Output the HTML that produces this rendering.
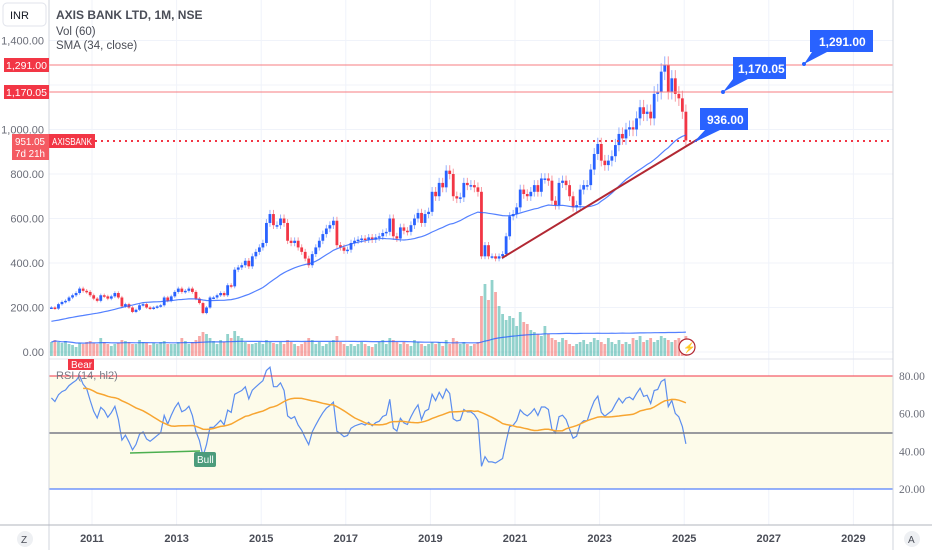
<!DOCTYPE html>
<html><head><meta charset="utf-8">
<style>
html,body{margin:0;padding:0;background:#fff;}
svg{display:block;font-family:"Liberation Sans",sans-serif;}
</style></head>
<body>
<svg id="chart" width="932" height="550" viewBox="0 0 932 550">
  <rect x="0" y="0" width="932" height="550" fill="#fff"/>
  <g id="grid"></g>
  <rect x="49" y="376" width="844" height="113" fill="#fdfbea"/>
  <g id="vol"></g>
  <g id="candles"></g>
  <g id="lines"></g>
  <g id="overlay">
    <line x1="49" y1="65" x2="893" y2="65" stroke="#f77c80" stroke-width="1"/>
    <line x1="49" y1="92" x2="893" y2="92" stroke="#f77c80" stroke-width="1"/>
    <line x1="95" y1="141" x2="893" y2="141" stroke="#f23645" stroke-width="2" stroke-dasharray="2,4"/>
    <line x1="502" y1="258" x2="713" y2="130" stroke="#b22833" stroke-width="2"/>
    <line x1="49" y1="359" x2="893" y2="359" stroke="#e0e3eb" stroke-width="1"/>
    <line x1="49" y1="376" x2="893" y2="376" stroke="#f23645" stroke-width="1"/>
    <line x1="49" y1="433" x2="893" y2="433" stroke="#787b86" stroke-width="1.5"/>
    <line x1="49" y1="489" x2="893" y2="489" stroke="#2962ff" stroke-width="1"/>
    <line x1="49" y1="0" x2="49" y2="550" stroke="#d1d4dc"/>
    <line x1="893" y1="0" x2="893" y2="550" stroke="#d1d4dc"/>
    <line x1="0" y1="525" x2="932" y2="525" stroke="#b2b5be"/>
  </g>
  <g id="ticks" font-size="11" fill="#6a6d78"></g>

  <!-- header -->
  <rect x="3" y="3" width="43" height="23" rx="4" fill="#fff" stroke="#e0e3eb"/>
  <text x="10" y="19" font-size="11" fill="#131722">INR</text>
  <text x="56" y="19" font-size="12" font-weight="bold" fill="#4a4d57">AXIS BANK LTD, 1M, NSE</text>
  <text x="56" y="35" font-size="11.5" fill="#4a4d57">Vol (60)</text>
  <text x="56" y="49" font-size="11.5" fill="#4a4d57">SMA (34, close)</text>

  <!-- left price labels -->
  <rect x="4" y="58" width="45" height="14" fill="#f23645"/>
  <text x="6" y="69" font-size="10.5" fill="#fff" textLength="41" lengthAdjust="spacingAndGlyphs">1,291.00</text>
  <rect x="4" y="85" width="45" height="14" fill="#f23645"/>
  <text x="6" y="96" font-size="10.5" fill="#fff" textLength="41" lengthAdjust="spacingAndGlyphs">1,170.05</text>
  <rect x="12" y="134" width="37" height="26" fill="#f45a62"/>
  <text x="15" y="145" font-size="10.5" fill="#fff" textLength="30" lengthAdjust="spacingAndGlyphs">951.05</text>
  <text x="15" y="157" font-size="10.5" fill="#fff" textLength="30" lengthAdjust="spacingAndGlyphs">7d 21h</text>
  <rect x="49" y="134" width="46" height="14" fill="#f23645"/>
  <text x="52" y="145" font-size="10" fill="#fff" textLength="40" lengthAdjust="spacingAndGlyphs">AXISBANK</text>

  <!-- callouts -->
  <g>
    <path d="M700,108 h48 v22 h-28 l-27,13 l12,-13 h-5 z" fill="#2962ff"/>
    <text x="707" y="124" font-size="12" font-weight="bold" fill="#fff">936.00</text>
  </g>
  <g>
    <path d="M733,57 h53 v22 h-38 l-25,13 l10,-13 z" fill="#2962ff"/>
    <circle cx="723" cy="92" r="2" fill="#2962ff"/>
    <text x="738" y="73" font-size="12" font-weight="bold" fill="#fff">1,170.05</text>
  </g>
  <g>
    <path d="M810,30 h63 v22 h-46 l-23,12 l8,-12 h-2 z" fill="#2962ff"/>
    <circle cx="804" cy="64" r="2" fill="#2962ff"/>
    <text x="819" y="46" font-size="12" font-weight="bold" fill="#fff">1,291.00</text>
  </g>

  <!-- RSI pane labels -->
  <rect x="68" y="359" width="26" height="11" fill="#f23645"/>
  <text x="71" y="368" font-size="10" fill="#fff">Bear</text>
  <text x="56" y="379" font-size="11" fill="#787b86">RSI (14, hl2)</text>
  <line x1="130" y1="453" x2="200" y2="451" stroke="#4caf50" stroke-width="1.5"/>
  <rect x="194" y="452" width="22" height="15" rx="2" fill="#4c9c7c"/>
  <text x="197" y="463" font-size="10" fill="#fff">Bull</text>

  <!-- misc icons -->
  <circle cx="687" cy="347" r="8" fill="#fff" stroke="#b22833" stroke-width="1.2"/>
  <text x="683" y="351" font-size="10" fill="#b22833">⚡</text>
  <circle cx="25" cy="539" r="8" fill="#eef0f3"/>
  <text x="21" y="543" font-size="10" fill="#4a4d57">Z</text>
  <circle cx="912" cy="539" r="8" fill="#eef0f3"/>
  <text x="908" y="543" font-size="10" fill="#4a4d57">A</text>
</svg>
<script>
// monthly closes Jan 2010 .. Jan 2025
const closes = [
200,195,215,225,230,245,255,265,285,275,270,255,
240,230,255,250,240,250,265,245,205,215,200,180,
190,210,215,200,195,200,205,210,245,230,250,270,
285,270,275,285,270,240,220,175,200,245,245,255,
265,255,300,295,370,380,390,410,385,430,450,470,
490,580,620,570,570,600,580,500,490,500,470,450,
420,390,440,470,500,530,555,570,590,480,470,455,
460,490,500,505,510,505,515,505,515,520,535,540,
600,520,510,560,545,540,570,600,625,580,620,630,
720,700,760,740,815,800,700,690,695,760,750,750,
740,720,430,480,430,430,420,430,440,520,610,620,
650,730,710,700,720,750,720,780,780,770,680,660,
760,770,750,700,650,660,730,750,750,820,890,935,
860,840,860,880,930,980,960,1000,1010,1000,1050,1100,
1070,1080,1050,1160,1170,1260,1290,1170,1230,1160,1140,1080,
951];
// closes before Jan 2010 (used for indicator warm-up only)
const priorCloses = [110,115,120,125,130,150,170,185,200,
180,160,150,160,150,120,130,140,120,90,80,80,
80,70,60,80,100,150,160,170,190,180,190,200];
const volumes = [
14,16,14,13,15,12,11,9,13,12,14,15,
13,12,18,14,12,10,12,13,16,15,14,12,
12,16,14,13,11,13,12,14,15,12,12,12,
14,18,15,12,14,16,20,24,22,18,15,12,
16,14,22,18,25,20,18,14,12,12,13,14,
12,16,14,13,12,14,12,16,14,12,10,12,
14,18,16,12,14,10,12,14,16,20,14,12,
10,12,10,12,14,12,10,9,12,14,16,12,
18,16,14,12,14,12,10,16,14,12,10,12,
14,12,14,10,16,12,18,15,12,14,12,10,
12,14,60,72,56,76,64,50,42,36,40,38,
30,44,34,32,26,24,22,20,30,22,18,16,
14,18,16,12,10,12,14,16,12,14,18,16,
14,12,18,14,12,16,12,14,12,18,16,20,
14,16,18,14,16,20,18,16,14,16,18,16,
20];
const priceTicks = [0,200,400,600,800,1000,1200,1400];
const priceTickLabels = ["0.00","200.00","400.00","600.00","800.00","1,000.00","1,200.00","1,400.00"];
const rsiTicks = [20,40,60,80];
const rsiTickLabels = ["20.00","40.00","60.00","80.00"];
const yearTicks = [2011,2013,2015,2017,2019,2021,2023,2025,2027,2029];

const NS = "http://www.w3.org/2000/svg";
function xT(t){ return 92 + (t - 2011) * 42.3; }
function xI(i){ return xT(2010 + i/12) + 1.7; }
function yP(p){ return 352 - p * 0.2225; }
function yR(v){ return 376 + (80 - v) * 1.883; }
function yV(v){ return 356 - v; }
function mk(tag, attrs, parent){ const e=document.createElementNS(NS,tag); for(const k in attrs) e.setAttribute(k,attrs[k]); parent.appendChild(e); return e; }

const grid=document.getElementById('grid'), ticks=document.getElementById('ticks');
yearTicks.forEach((y,i)=>{
  const l=mk('line',{x1:xT(y),x2:xT(y),y1:0,y2:525,stroke:'#f0f3fa'},grid);
  
  
  const t=mk('text',{x:xT(y),y:542,'text-anchor':'middle','font-size':'11','font-weight':'bold',fill:'#4a4d57'},ticks);
  t.textContent=y;
  
  
});
priceTicks.forEach((p,i)=>{
  const l=mk('line',{x1:49,x2:893,y1:yP(p),y2:yP(p),stroke:'#f0f3fa'},grid);
  
  
  if(p===1200) return;
  const t=mk('text',{x:44,y:yP(p)+4,'text-anchor':'end'},ticks);
  t.textContent=priceTickLabels[i];
  
  
});
rsiTicks.forEach((v,i)=>{
  const l=mk('line',{x1:49,x2:893,y1:yR(v),y2:yR(v),stroke:'#f0f3fa'},grid);
  
  
  const t=mk('text',{x:899,y:yR(v)+4,'font-family':'Liberation Serif, serif','font-size':'11.5'},ticks);
  t.textContent=rsiTickLabels[i];
  
  
});

// volume
const volG=document.getElementById('vol');
closes.forEach((c,i)=>{
  const o = i===0 ? priorCloses[priorCloses.length-1] : closes[i-1];
  const r=mk('rect',{x:xI(i)-1.4,y:yV(volumes[i]),width:2.8,height:volumes[i],fill: c>=o?'rgba(38,166,154,0.5)':'rgba(239,83,80,0.5)'},volG);
  
  
});
// candles
const cG=document.getElementById('candles');
closes.forEach((c,i)=>{
  const o = i===0 ? priorCloses[priorCloses.length-1] : closes[i-1];
  const col = c>=o ? '#2962ff' : '#f23645';
  const hi = Math.max(o,c)*1.03, lo = Math.min(o,c)*0.97;
  const w=mk('line',{x1:xI(i),x2:xI(i),y1:yP(hi),y2:yP(lo),stroke:col,'stroke-opacity':0.5,'stroke-width':1},cG);
  
  
  const top=yP(Math.max(o,c)), bot=yP(Math.min(o,c));
  const b=mk('rect',{x:xI(i)-1.4,y:top,width:2.8,height:Math.max(1.5,bot-top),fill:col},cG);
  
  
});
// indicators
const all = priorCloses.concat(closes), off = priorCloses.length;
function path(pts){ return pts.map((p,i)=>(i?'L':'M')+p[0].toFixed(1)+','+p[1].toFixed(1)).join(' '); }
const smaPts=[];
closes.forEach((c,i)=>{ const j=i+off; const s=all.slice(Math.max(0,j-33),j+1); smaPts.push([xI(i), yP(s.reduce((a,b)=>a+b,0)/s.length)]); });
const lines=document.getElementById('lines');
const sm=mk('path',{d:path(smaPts),fill:'none',stroke:'#2962ff','stroke-width':1.2,'stroke-opacity':0.8},lines);


const vsPts=[];
volumes.forEach((v,i)=>{ const s=volumes.slice(Math.max(0,i-59),i+1); vsPts.push([xI(i), yV(s.reduce((a,b)=>a+b,0)/s.length)]); });
const vs=mk('path',{d:path(vsPts),fill:'none',stroke:'#2962ff','stroke-width':1.2,'stroke-opacity':0.8},lines);


// RSI (Wilder, 14)
let ag=0, al=0; const rsi=[];
for(let j=1;j<all.length;j++){
  const d=all[j]-all[j-1], g=Math.max(d,0), l=Math.max(-d,0);
  if(j<=14){ ag+=g/14; al+=l/14; } else { ag=(ag*13+g)/14; al=(al*13+l)/14; }
  if(j>=off) rsi.push(al===0?100:100-100/(1+ag/al));
}
const rPts=rsi.map((v,i)=>[xI(i),yR(v)]);
const rl=mk('path',{d:path(rPts),fill:'none',stroke:'#5b8def','stroke-width':1.2},lines);


const rmaPts=[];
rsi.forEach((v,i)=>{ if(i<9) return; const s=rsi.slice(Math.max(0,i-23),i+1); rmaPts.push([xI(i), yR(s.reduce((a,b)=>a+b,0)/s.length)]); });
const rm=mk('path',{d:path(rmaPts),fill:'none',stroke:'#f7a531','stroke-width':1.5},lines);


</script>
</body></html>
